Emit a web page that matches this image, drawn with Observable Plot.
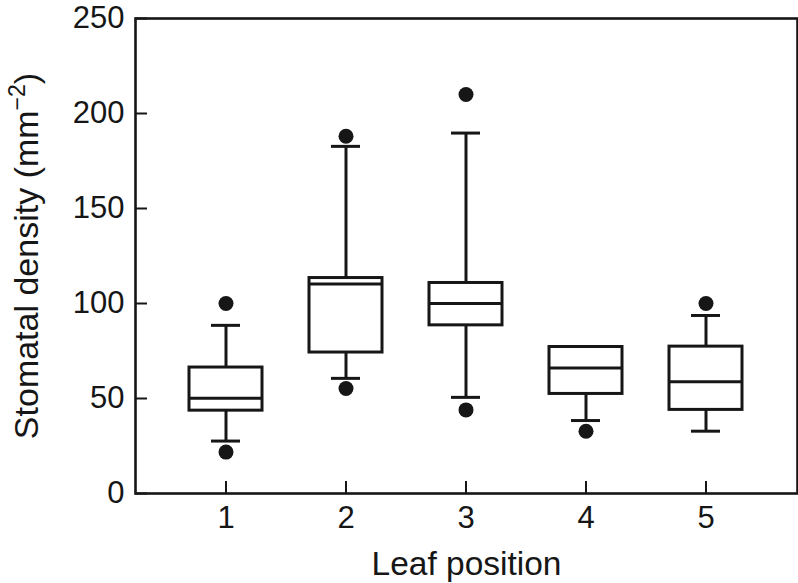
<!DOCTYPE html>
<html>
<head>
<meta charset="utf-8">
<script src="https://cdn.jsdelivr.net/npm/d3@7"></script>
<script src="https://cdn.jsdelivr.net/npm/@observablehq/plot@0.6"></script>
<style>
  html, body { margin: 0; padding: 0; background: #fff; }
  #chart { width: 798px; height: 583px; }
</style>
</head>
<body>
<div id="chart"></div>
<script>
// ---- data ----
const positions   = [1, 2, 3, 4, 5];
const whiskerLow  = [27.6, 60.6, 50.6, 38.4, 32.8];
const q1          = [43.6, 74.2, 88.5, 52.4, 44.0];
const medians     = [50.1, 110.3, 100.0, 66.0, 58.8];
const q3          = [66.3, 113.4, 110.8, 77.1, 77.3];
const whiskerHigh = [88.5, 182.7, 189.7, null, 93.7];
const outlierPos  = [1, 1, 2, 2, 3, 3, 4, 5];
const outlierVal  = [100, 21.8, 188, 55.3, 210, 44, 32.8, 100];
const yTicks      = [0, 50, 100, 150, 200, 250];
const xLabel = "Leaf position";
const yLabel = "Stomatal density (mm−2)";

const boxes = positions.map((p, i) => ({
  pos: p, lo: whiskerLow[i], q1: q1[i], med: medians[i], q3: q3[i], hi: whiskerHigh[i]
}));
const upper = boxes.filter(d => d.hi != null);
const outliers = outlierPos.map((p, i) => ({pos: p, value: outlierVal[i]}));

const SW = 3;
const INK = "#161616";
const font = "'Liberation Sans', Arial, Helvetica, sans-serif";

const chart = Plot.plot({
  width: 798,
  height: 583,
  marginLeft: 135,
  marginRight: 1,
  marginTop: 18,
  marginBottom: 90,
  style: {fontFamily: font, fontSize: "31px", color: INK, background: "#fff"},
  x: {type: "band", domain: positions, paddingInner: 0.39, paddingOuter: 0.45, label: null},
  y: {domain: [0, 250], label: null},
  marks: [
    // whiskers
    Plot.ruleX(boxes, {x: "pos", y1: "lo", y2: "q1", stroke: INK, strokeWidth: SW}),
    Plot.ruleX(upper, {x: "pos", y1: "q3", y2: "hi", stroke: INK, strokeWidth: SW}),
    // caps
    Plot.tickY(boxes, {x: "pos", y: "lo", insetLeft: 22, insetRight: 22, stroke: INK, strokeWidth: SW}),
    Plot.tickY(upper, {x: "pos", y: "hi", insetLeft: 22, insetRight: 22, stroke: INK, strokeWidth: SW}),
    // boxes
    Plot.barY(boxes, {x: "pos", y1: "q1", y2: "q3", fill: "white", stroke: INK, strokeWidth: SW}),
    // medians
    Plot.tickY(boxes, {x: "pos", y: "med", stroke: INK, strokeWidth: SW}),
    // outliers
    Plot.dot(outliers, {x: "pos", y: "value", r: 7.5, fill: INK, stroke: "none"}),
    // axes
    Plot.axisY({ticks: yTicks, tickSize: 0, tickPadding: 11, fontSize: 31, fill: INK, label: null}),
    Plot.axisY({ticks: yTicks, tickSize: -12, tickFormat: () => "", stroke: INK, strokeWidth: 2, label: null}),
    Plot.axisX({tickSize: 0, tickPadding: 12, fontSize: 31, fill: INK, label: null}),
    Plot.axisX({tickSize: -12, tickFormat: () => "", stroke: INK, strokeWidth: 2, label: null}),
    Plot.frame({stroke: INK, strokeWidth: 2.6}),
    // axis titles
    Plot.text([xLabel], {text: d => d, frameAnchor: "bottom", dy: 58, lineAnchor: "top", textAnchor: "middle", fontSize: 33.5, fill: INK}),
    Plot.text([yLabel], {text: d => d, frameAnchor: "left", dx: -122, rotate: -90, lineAnchor: "top", textAnchor: "middle", fontSize: 34, fill: INK})
  ]
});

document.getElementById("chart").appendChild(chart);

// superscript on the y title
chart.querySelectorAll("text").forEach(t => {
  if (t.textContent === yLabel) {
    const target = t.querySelector("tspan") || t;
    target.textContent = "";
    const ns = "http://www.w3.org/2000/svg";
    const a = document.createElementNS(ns, "tspan");
    a.textContent = "Stomatal density (mm";
    const s = document.createElementNS(ns, "tspan");
    s.textContent = "−2";
    s.setAttribute("font-size", "23");
    s.setAttribute("dy", "-13");
    const c = document.createElementNS(ns, "tspan");
    c.textContent = ")";
    c.setAttribute("dy", "13");
    target.appendChild(a);
    target.appendChild(s);
    target.appendChild(c);
  }
});
</script>
</body>
</html>
